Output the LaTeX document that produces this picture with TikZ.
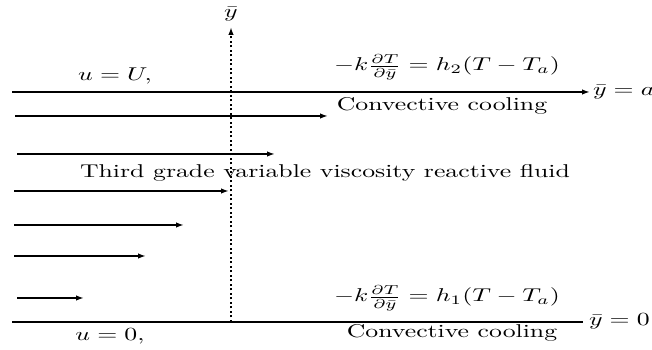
\documentclass[tikz,border=0pt]{standalone}
\usepackage{amsmath,amssymb}
\usepackage{graphicx}
\usetikzlibrary{arrows.meta}
\newcommand{\squashed}[1]{\scalebox{1.03}[0.74]{#1}}

\begin{document}
\begin{tikzpicture}[
        x=0.4pt,y=-0.4pt,
        every node/.style={inner sep=1pt},
        wall/.style={thick},
        flow/.style={thick,->,>={Latex[length=3.2pt,width=2.2pt]}}
    ]
        \useasboundingbox (0,0) rectangle (652,350);

        \coordinate (topW) at (12,92);
        \coordinate (topE) at (590,92);
        \coordinate (botW) at (12,322);
        \coordinate (botE) at (583,322);
        \coordinate (axisB) at (231,322);
        \coordinate (axisT) at (231,27);

        \draw[flow] (topW) -- (topE);
        \draw[wall] (botW) -- (botE);
        \draw[flow,densely dotted] (axisB) -- (axisT);

        \foreach \i/\y/\xs/\xe in {1/116/15/328, 2/154/17/275, 3/191/14/229,
                                   4/225/14/184, 5/256/14/146, 6/298/17/84} {
            \coordinate (s\i) at (\xs,\y);
            \coordinate (e\i) at (\xe,\y);
            \draw[flow] (s\i) -- (e\i);
        }

        \node (ybar) at (231,14) {\squashed{$\bar{y}$}};
        \node[anchor=west] (ya) at (topE) {\squashed{$\bar{y}=a$}};
        \node[anchor=west] (y0) at (586,321) {\squashed{$\bar{y}=0$}};

        \node (uU) at (115,76) {\squashed{$u=U,$}};
        \node (u0) at (110,336) {\squashed{$u=0,$}};

        \node (bcTop) at (447,67) {\squashed{$-k\frac{\partial T}{\partial \bar{y}}=h_2(T-T_a)$}};
        \node (ccTop) at (442,106) {\squashed{Convective cooling}};
        \node (fluid) at (325,173) {\squashed{Third grade variable viscosity reactive fluid}};
        \node (bcBot) at (447,298) {\squashed{$-k\frac{\partial T}{\partial \bar{y}}=h_1(T-T_a)$}};
        \node (ccBot) at (452,333) {\squashed{Convective cooling}};
    \end{tikzpicture}
\end{document}
